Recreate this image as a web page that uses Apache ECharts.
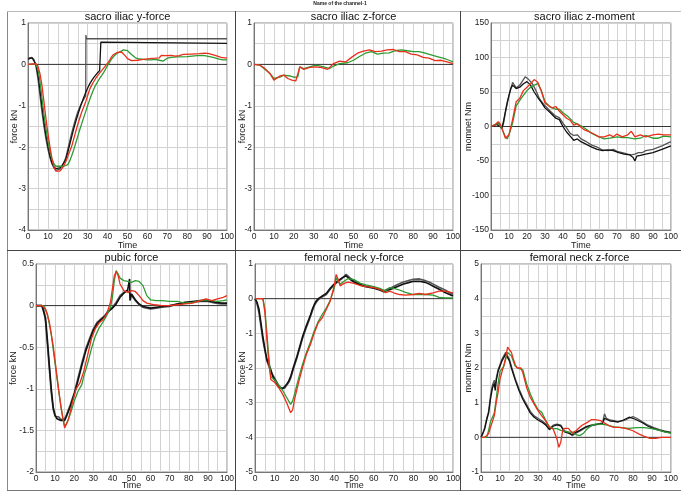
<!DOCTYPE html>
<html><head><meta charset="utf-8">
<script src="https://cdn.jsdelivr.net/npm/echarts@6/dist/echarts.min.js"></script>
<style>html,body{margin:0;padding:0;background:#fff}#c{width:681px;height:492px}</style>
</head><body><div id="c"></div>
<script>
const MAIN_TITLE = 'Name of the channel-1';
const TITLES = ['sacro iliac y-force','sacro iliac z-force','sacro iliac z-moment','pubic force','femoral neck y-force','femoral neck z-force'];
const Y_NAMES = ['force kN','force kN','momnet Nm','force kN','force kN','momnet Nm'];
const X_NAME = 'Time';
// [min, max, label step]
const Y_RANGES = [[-4,1,1],[-4,1,1],[-150,150,50],[-2,0.5,0.5],[-5,1,1],[-1,5,1]];
const X_RANGE = [0,100,10];
const ZERO = [[0,0],[100,0]];

// ---- panel 1: sacro iliac y-force
const P1_BLK1 = [[0,0.15],[1,0.17],[2,0.17],[3,0.12],[4,-0.05],[5,-0.35],[6,-0.75],[7,-1.15],[8,-1.5],[9,-1.8],[10,-2.05],[11,-2.25],[12,-2.4],[13,-2.5],[14,-2.56],[15,-2.57],[16,-2.53],[17,-2.46],[18,-2.37],[19,-2.25],[20,-2.05],[21,-1.85],[22,-1.65],[23,-1.47],[24,-1.3],[25,-1.15],[26,-1.03],[27,-0.93],[28,-0.84],[29,-0.76],[29.1,0.71],[29.4,0.62],[100,0.62]];
const P1_BLK2 = [[0,0.13],[1,0.16],[2,0.16],[3,0.13],[4,0.0],[5,-0.25],[6,-0.6],[7,-1.0],[8,-1.38],[9,-1.7],[10,-1.97],[11,-2.2],[12,-2.37],[13,-2.47],[14,-2.52],[15,-2.52],[16,-2.5],[17,-2.45],[18,-2.38],[19,-2.3],[20,-2.12],[21,-1.93],[22,-1.74],[23,-1.55],[24,-1.38],[25,-1.22],[26,-1.07],[27,-0.93],[28,-0.8],[29,-0.68],[30,-0.57],[31,-0.47],[32,-0.39],[33,-0.32],[34,-0.26],[35,-0.2],[36,-0.15],[36.5,-0.13],[36.6,0.54],[36.9,0.51],[100,0.51]];
const P1_GRN = [[0,0],[2,0],[3,0.01],[4,0],[5,-0.12],[6,-0.4],[7,-0.8],[8,-1.2],[9,-1.55],[10,-1.85],[11,-2.1],[12,-2.28],[13,-2.4],[14,-2.46],[15,-2.48],[16,-2.46],[17,-2.45],[18,-2.46],[19,-2.46],[20,-2.42],[21,-2.33],[22,-2.2],[23,-2.06],[24,-1.9],[25,-1.74],[26,-1.58],[27,-1.43],[28,-1.28],[29,-1.14],[30,-0.99],[31,-0.85],[32,-0.72],[33,-0.6],[34,-0.5],[35,-0.42],[36,-0.34],[37,-0.27],[38,-0.2],[39,-0.11],[40,-0.03],[41,0.05],[42,0.13],[43,0.19],[44,0.24],[45,0.27],[46,0.3],[47,0.33],[48,0.35],[49,0.35],[50,0.33],[51,0.29],[52,0.24],[53,0.2],[54,0.16],[55,0.14],[56,0.13],[58,0.12],[60,0.11],[62,0.11],[64,0.12],[66,0.1],[68,0.08],[69,0.1],[70,0.15],[72,0.17],[75,0.18],[80,0.19],[85,0.21],[88,0.22],[90,0.2],[93,0.17],[96,0.13],[98,0.11],[100,0.11]];
const P1_RED = [[0,0],[2,0.01],[3,0.02],[4,0.02],[5,-0.05],[6,-0.22],[7,-0.5],[8,-0.9],[9,-1.3],[10,-1.66],[11,-1.98],[12,-2.27],[13,-2.47],[14,-2.58],[15,-2.61],[16,-2.58],[17,-2.52],[18,-2.45],[19,-2.35],[20,-2.22],[21,-2.1],[22,-1.97],[23,-1.8],[24,-1.62],[25,-1.45],[26,-1.3],[27,-1.15],[28,-1.03],[29,-0.9],[30,-0.75],[31,-0.6],[32,-0.5],[33,-0.42],[34,-0.34],[35,-0.27],[36,-0.21],[37,-0.15],[38,-0.09],[39,-0.03],[40,0.03],[41,0.1],[42,0.18],[43,0.24],[44,0.27],[45,0.29],[46,0.3],[47,0.3],[48,0.27],[49,0.2],[50,0.14],[51,0.1],[52,0.09],[53,0.09],[55,0.1],[58,0.12],[61,0.14],[64,0.15],[66,0.16],[67,0.22],[68,0.19],[69,0.21],[70,0.19],[72,0.22],[74,0.2],[76,0.21],[78,0.24],[82,0.25],[86,0.26],[89,0.27],[91,0.26],[94,0.22],[97,0.17],[100,0.15]];

// ---- panel 2: sacro iliac z-force
const P2_GRN = [[0,0],[3,-0.02],[5,-0.1],[8,-0.22],[10,-0.34],[11,-0.38],[13,-0.31],[15,-0.26],[16,-0.22],[18,-0.28],[20,-0.31],[22,-0.3],[23,-0.06],[25,-0.1],[28,-0.06],[31,-0.02],[35,-0.06],[38,-0.1],[40,-0.04],[43,0.02],[47,0.04],[50,0.1],[53,0.19],[56,0.27],[59,0.31],[62,0.25],[65,0.27],[68,0.28],[71,0.33],[74,0.35],[77,0.33],[80,0.31],[83,0.31],[86,0.27],[89,0.23],[92,0.19],[95,0.15],[98,0.1],[100,0.06]];
const P2_RED = [[0,0],[3,-0.02],[5,-0.08],[8,-0.22],[10,-0.38],[11,-0.35],[13,-0.28],[15,-0.26],[17,-0.34],[19,-0.38],[20,-0.42],[21,-0.4],[23,-0.06],[25,-0.12],[28,-0.07],[31,-0.06],[34,-0.08],[37,-0.12],[40,0.02],[43,0.08],[46,0.06],[49,0.17],[52,0.27],[55,0.32],[58,0.35],[61,0.31],[64,0.32],[67,0.35],[70,0.36],[73,0.31],[76,0.31],[79,0.25],[82,0.23],[85,0.17],[88,0.15],[91,0.09],[94,0.1],[97,0.06],[100,0.02]];

// ---- panel 3: sacro iliac z-moment
const P3_BLK1 = [[0,0],[2,2],[4,5],[5,2],[6,-3],[7,5],[8,20],[10,45],[12,64],[14,56],[16,60],[18,68],[19,72],[21,68],[23,62],[25,52],[27,40],[30,30],[33,22],[36,15],[38,13],[40,5],[42,-2],[44,-10],[46,-13],[48,-12],[50,-18],[53,-22],[56,-27],[59,-30],[62,-34],[65,-35],[68,-33],[70,-36],[73,-38],[76,-40],[78,-41],[80,-40],[82,-38],[84,-38],[86,-35],[90,-33],[95,-28],[100,-22]];
const P3_BLK2 = [[0,0],[3,3],[5,0],[6,-3],[7,8],[9,35],[11,55],[12,60],[14,55],[16,57],[18,62],[20,65],[22,60],[24,50],[26,42],[28,35],[30,27],[33,20],[36,12],[38,10],[40,0],[42,-8],[44,-14],[46,-20],[48,-18],[50,-22],[53,-26],[56,-30],[59,-33],[62,-35],[65,-34],[68,-35],[71,-38],[74,-40],[77,-41],[79,-45],[80,-50],[81,-43],[83,-42],[86,-40],[90,-38],[95,-33],[100,-28]];
const P3_GRN = [[0,0],[4,5],[6,-3],[8,-15],[9,-18],[10,-12],[12,5],[14,30],[16,38],[18,45],[20,52],[22,57],[24,60],[26,62],[28,52],[30,36],[33,28],[36,25],[38,25],[40,20],[43,14],[46,6],[50,1],[53,-4],[56,-10],[60,-15],[63,-18],[66,-17],[70,-15],[73,-16],[76,-16],[80,-18],[83,-17],[86,-13],[88,-15],[90,-17],[93,-17],[96,-14],[100,-15]];
const P3_RED = [[0,0],[2,2],[4,7],[5,4],[6,-2],[8,-17],[9,-18],[10,-12],[12,10],[14,36],[16,41],[18,52],[20,57],[22,62],[24,68],[26,64],[28,51],[30,34],[32,30],[34,27],[36,29],[38,22],[40,17],[42,12],[44,9],[46,2],[48,4],[50,-1],[52,-5],[55,-8],[58,-12],[60,-15],[63,-15],[66,-12],[68,-15],[70,-11],[73,-15],[76,-12],[78,-7],[80,-15],[83,-12],[86,-15],[90,-12],[93,-11],[96,-12],[100,-12]];

// ---- panel 4: pubic force
const P4_BLK1 = [[0,0],[3,0],[4,-0.04],[5,-0.2],[6,-0.48],[7,-0.77],[8,-1.05],[9,-1.25],[10,-1.33],[11,-1.35],[12,-1.34],[13,-1.37],[14,-1.39],[15,-1.36],[16,-1.31],[18,-1.19],[20,-1.05],[22,-0.87],[24,-0.69],[26,-0.52],[28,-0.4],[30,-0.28],[32,-0.2],[34,-0.16],[36,-0.12],[38,-0.06],[40,-0.02],[42,0.04],[44,0.12],[46,0.16],[48,0.18],[50,0.12],[52,0.06],[54,0.01],[56,-0.02],[58,-0.03],[60,-0.04],[63,-0.03],[66,-0.02],[70,-0.01],[74,0.02],[78,0.03],[82,0.04],[86,0.05],[90,0.05],[94,0.03],[97,0.02],[100,0.02]];
const P4_BLK2 = [[0,0],[3,0],[4,-0.02],[5,-0.15],[6,-0.42],[7,-0.72],[8,-1.0],[9,-1.22],[10,-1.32],[11,-1.36],[12,-1.36],[13,-1.38],[14,-1.4],[15,-1.38],[16,-1.33],[18,-1.21],[20,-1.07],[22,-0.9],[24,-0.72],[26,-0.55],[28,-0.42],[30,-0.3],[32,-0.22],[34,-0.17],[36,-0.13],[38,-0.07],[40,-0.03],[42,0.02],[44,0.1],[46,0.15],[48,0.19],[48.8,0.2],[49,0.32],[49.2,0.06],[50,0.14],[52,0.07],[54,0.02],[56,-0.01],[58,-0.02],[60,-0.03],[63,-0.02],[66,-0.01],[70,0],[74,0.02],[78,0.04],[82,0.05],[86,0.06],[90,0.06],[94,0.04],[97,0.03],[100,0.03]];
const P4_GRN = [[0,0],[4,0],[6,-0.1],[8,-0.35],[10,-0.7],[12,-1.05],[14,-1.35],[15,-1.45],[16,-1.42],[18,-1.3],[20,-1.15],[22,-1.03],[24,-0.95],[25,-0.85],[27,-0.7],[29,-0.52],[31,-0.37],[33,-0.27],[35,-0.2],[37,-0.12],[39,-0.02],[40,0.1],[41,0.3],[42,0.42],[43,0.38],[44,0.33],[46,0.3],[48,0.29],[50,0.28],[52,0.3],[54,0.29],[56,0.24],[58,0.12],[60,0.07],[63,0.06],[66,0.06],[70,0.05],[74,0.05],[78,0.03],[82,0.04],[86,0.06],[89,0.07],[92,0.06],[95,0.05],[98,0.06],[100,0.07]];
const P4_RED = [[0,0],[3,0],[5,-0.04],[7,-0.2],[9,-0.48],[11,-0.85],[13,-1.21],[15,-1.47],[16,-1.45],[17,-1.37],[19,-1.17],[21,-1.0],[23,-0.93],[25,-0.79],[27,-0.6],[29,-0.4],[31,-0.28],[33,-0.21],[35,-0.17],[37,-0.1],[39,0.04],[40,0.2],[41,0.36],[42,0.41],[43,0.36],[44,0.26],[46,0.18],[48,0.16],[50,0.18],[52,0.17],[54,0.12],[56,0.06],[58,0.03],[62,0.01],[66,0],[70,0],[74,0.01],[78,0.02],[82,0.03],[86,0.06],[89,0.08],[92,0.06],[95,0.08],[98,0.1],[100,0.12]];

// ---- panel 5: femoral neck y-force
const P5_BLK1 = [[0,0],[1,-0.15],[2,-0.4],[3,-0.8],[4,-1.2],[5,-1.5],[6,-1.8],[7,-1.95],[8,-2.1],[9,-2.2],[10,-2.3],[11,-2.4],[12,-2.5],[13,-2.57],[14,-2.62],[15,-2.58],[16,-2.5],[17,-2.42],[18,-2.3],[19,-2.1],[20,-1.92],[21,-1.75],[22,-1.55],[23,-1.35],[24,-1.15],[25,-0.98],[26,-0.82],[27,-0.67],[28,-0.52],[29,-0.35],[30,-0.2],[31,-0.1],[32,-0.03],[33,-0.02],[34,0.05],[36,0.12],[38,0.27],[40,0.4],[42,0.5],[44,0.58],[46,0.7],[47,0.68],[48,0.6],[50,0.52],[52,0.46],[55,0.37],[58,0.34],[60,0.32],[63,0.27],[65,0.22],[67,0.28],[69,0.32],[72,0.41],[75,0.48],[78,0.53],[80,0.56],[83,0.57],[86,0.52],[88,0.48],[90,0.42],[93,0.33],[96,0.25],[100,0.12]];
const P5_BLK2 = [[0,0],[1,-0.1],[2,-0.3],[3,-0.7],[4,-1.1],[5,-1.45],[6,-1.75],[7,-1.9],[8,-2.05],[9,-2.25],[10,-2.35],[11,-2.45],[12,-2.55],[13,-2.6],[14,-2.6],[15,-2.55],[16,-2.47],[17,-2.38],[18,-2.25],[19,-2.05],[20,-1.87],[21,-1.7],[22,-1.5],[23,-1.3],[24,-1.1],[25,-0.93],[26,-0.77],[27,-0.62],[28,-0.47],[29,-0.3],[30,-0.16],[31,-0.06],[32,0.0],[34,0.08],[36,0.15],[38,0.3],[40,0.42],[42,0.52],[44,0.6],[46,0.66],[47,0.63],[48,0.56],[50,0.48],[52,0.43],[55,0.36],[58,0.32],[60,0.3],[63,0.25],[65,0.2],[67,0.24],[69,0.28],[72,0.35],[75,0.42],[78,0.47],[80,0.5],[83,0.5],[86,0.47],[88,0.42],[90,0.36],[93,0.27],[96,0.18],[100,0.08]];
const P5_GRN = [[0,0],[4,0],[5,-0.3],[6,-1.0],[7,-1.7],[8,-2.25],[10,-2.35],[12,-2.5],[14,-2.65],[16,-2.85],[18,-3.05],[19,-2.95],[20,-2.75],[22,-2.3],[24,-1.9],[26,-1.55],[28,-1.25],[30,-0.92],[32,-0.65],[34,-0.45],[36,-0.27],[38,-0.05],[40,0.3],[41,0.6],[42,0.5],[43,0.42],[45,0.5],[47,0.58],[50,0.55],[53,0.45],[56,0.4],[60,0.35],[63,0.3],[66,0.22],[68,0.32],[70,0.3],[73,0.25],[76,0.18],[80,0.12],[83,0.12],[86,0.12],[90,0.1],[93,0.04],[96,0.02],[100,0.02]];
const P5_RED = [[0,0],[2,0],[3,0.05],[4,0],[5,-0.4],[6,-1.17],[7,-1.85],[8,-2.33],[10,-2.42],[12,-2.57],[14,-2.76],[16,-3.0],[18,-3.29],[19,-3.21],[20,-2.9],[22,-2.42],[24,-1.99],[26,-1.6],[28,-1.32],[30,-0.98],[32,-0.69],[33,-0.74],[34,-0.55],[36,-0.31],[38,-0.07],[40,0.37],[41,0.7],[42,0.56],[43,0.37],[45,0.44],[47,0.48],[50,0.44],[53,0.38],[56,0.35],[60,0.32],[63,0.27],[66,0.17],[68,0.22],[70,0.17],[73,0.12],[76,0.1],[80,0.12],[83,0.15],[86,0.12],[90,0.17],[93,0.22],[96,0.22],[100,0.17]];

// ---- panel 6: femoral neck z-force
const P6_BLK1 = [[0,0],[1,0.1],[2,0.3],[3,0.55],[4,0.75],[5,1.2],[6,1.5],[7,1.65],[7.5,1.4],[8,1.7],[9,1.95],[10,2.1],[11,2.25],[12,2.35],[13,2.45],[14,2.4],[15,2.25],[16,2.05],[18,1.7],[20,1.4],[22,1.15],[24,0.95],[26,0.75],[28,0.62],[30,0.55],[32,0.48],[34,0.4],[36,0.25],[37,0.2],[38,0.35],[40,0.38],[42,0.35],[44,0.18],[46,0.15],[48,0.05],[50,0.12],[52,0.18],[55,0.28],[58,0.33],[61,0.38],[64,0.42],[65,0.68],[66,0.55],[68,0.5],[70,0.48],[72,0.45],[75,0.48],[78,0.55],[80,0.6],[82,0.55],[85,0.45],[88,0.35],[91,0.28],[94,0.22],[97,0.18],[100,0.15]];
const P6_BLK2 = [[0,0],[1,0.05],[2,0.25],[3,0.5],[4,0.7],[5,1.1],[6,1.42],[7,1.55],[7.5,1.35],[8,1.62],[9,1.9],[10,2.05],[11,2.2],[12,2.3],[13,2.4],[14,2.36],[15,2.2],[16,2.0],[18,1.65],[20,1.35],[22,1.1],[24,0.9],[26,0.7],[28,0.58],[30,0.5],[32,0.44],[34,0.36],[36,0.22],[37,0.18],[38,0.32],[40,0.36],[42,0.33],[44,0.16],[46,0.12],[48,0.08],[50,0.15],[52,0.2],[55,0.3],[58,0.35],[61,0.37],[64,0.4],[65,0.55],[66,0.5],[68,0.47],[70,0.46],[72,0.44],[75,0.5],[78,0.58],[80,0.55],[82,0.5],[85,0.42],[88,0.32],[91,0.25],[94,0.2],[97,0.16],[100,0.13]];
const P6_GRN = [[0,0],[3,0],[4,0.2],[5,0.45],[6,0.5],[7,0.7],[8,1.1],[9,1.55],[10,1.9],[11,1.95],[12,2.05],[13,2.25],[14,2.45],[15,2.5],[16,2.35],[17,2.2],[18,2.05],[20,1.98],[22,1.95],[24,1.55],[26,1.25],[28,1.0],[30,0.8],[32,0.72],[34,0.5],[36,0.3],[38,0.25],[40,0.25],[42,0.2],[44,0.18],[46,0.15],[48,0.15],[50,0.08],[52,0.05],[54,0.12],[56,0.25],[58,0.33],[60,0.38],[63,0.38],[66,0.36],[70,0.3],[74,0.28],[78,0.26],[82,0.28],[86,0.28],[90,0.25],[94,0.2],[97,0.15],[100,0.12]];
const P6_RED = [[0,0],[2,0],[3,-0.03],[4,0.1],[5,0.29],[6,0.34],[7,0.62],[8,1.0],[9,1.3],[10,1.68],[11,1.88],[12,2.07],[13,2.3],[14,2.6],[15,2.64],[16,2.45],[17,2.26],[18,2.1],[19,2.0],[20,1.97],[21,2.0],[22,1.87],[24,1.44],[26,1.15],[28,0.96],[30,0.77],[32,0.62],[34,0.48],[36,0.29],[38,0.24],[39,0.19],[40,-0.05],[41,-0.29],[42,-0.14],[43,0.19],[44,0.26],[46,0.26],[48,0.13],[50,0.19],[53,0.34],[56,0.43],[58,0.51],[60,0.51],[63,0.48],[66,0.38],[68,0.32],[70,0.29],[73,0.29],[76,0.26],[80,0.19],[83,0.1],[86,0.03],[89,-0.03],[92,-0.03],[95,0],[100,0]];

const PANELS = [
  {blk:[P1_BLK1,P1_BLK2], grn:P1_GRN, red:P1_RED},
  {blk:[], grn:P2_GRN, red:P2_RED},
  {blk:[P3_BLK1,P3_BLK2], grn:P3_GRN, red:P3_RED},
  {blk:[P4_BLK1,P4_BLK2], grn:P4_GRN, red:P4_RED},
  {blk:[P5_BLK1,P5_BLK2], grn:P5_GRN, red:P5_RED},
  {blk:[P6_BLK1,P6_BLK2], grn:P6_GRN, red:P6_RED}
];

// layout (pixels)
const GRIDS = [
  {left:28, top:23, width:199, height:207},
  {left:254, top:23, width:199, height:207},
  {left:491, top:23, width:187, height:207},
  {left:36, top:264, width:191, height:208},
  {left:255, top:264, width:198, height:208},
  {left:481, top:264, width:197, height:208}
];
const YGAPS = [9,7,18,18,8,8];
const XGAPS = [11,11,11,9,9,9];
const FONT = 'Liberation Sans, Arial, Helvetica, sans-serif';
const BLACKS = ['#555555','#111111'];
const GREEN = '#2e9a32';
const RED = '#e8301c';

function isMult(v, s){ const r = v/s; return Math.abs(r-Math.round(r))<1e-6; }

const option = {
  animation:false,
  backgroundColor:'#ffffff',
  grid: GRIDS.map(g=>Object.assign({show:true, borderColor:'#8a8a8a', borderWidth:1, backgroundColor:'#fff', containLabel:false}, g)),
  xAxis: GRIDS.map((g,i)=>({
    type:'value', gridIndex:i, min:X_RANGE[0], max:X_RANGE[1], interval:X_RANGE[2]/2,
    name:X_NAME, nameLocation:'middle', nameGap:XGAPS[i], nameMoveOverlap:false,
    nameTextStyle:{fontFamily:FONT, fontSize:9, color:'#222'},
    axisLine:{show:true, onZero:false, lineStyle:{color:'#777'}},
    axisTick:{show:false},
    axisLabel:{fontFamily:FONT, fontSize:8.5, color:'#222', margin:2, showMinLabel:true, showMaxLabel:true,
      formatter:v=> isMult(v,X_RANGE[2]) ? String(Math.round(v)) : ''},
    splitLine:{show:true, lineStyle:{color:'#d2d2d2', width:1}}
  })),
  yAxis: GRIDS.map((g,i)=>({
    type:'value', gridIndex:i, min:Y_RANGES[i][0], max:Y_RANGES[i][1], interval:Y_RANGES[i][2]/2,
    name:Y_NAMES[i], nameLocation:'middle', nameGap:YGAPS[i], nameMoveOverlap:false,
    nameTextStyle:{fontFamily:FONT, fontSize:9, color:'#222'},
    axisLine:{show:true, onZero:false, lineStyle:{color:'#777'}},
    axisTick:{show:false},
    axisLabel:{fontFamily:FONT, fontSize:8.5, color:'#222', margin:2, showMinLabel:true, showMaxLabel:true,
      formatter:v=> isMult(v,Y_RANGES[i][2]) ? String(+v.toFixed(2)) : ''},
    splitLine:{show:true, lineStyle:{color:'#d2d2d2', width:1}}
  })),
  series: [],
  graphic: []
};

PANELS.forEach((p,i)=>{
  const base = {type:'line', xAxisIndex:i, yAxisIndex:i, showSymbol:false, symbol:'none', silent:true, smooth:false};
  option.series.push(Object.assign({}, base, {data:ZERO, lineStyle:{color:'#333', width:1}}));
  p.blk.forEach((d,k)=>{
    option.series.push(Object.assign({}, base, {data:d, lineStyle:{color:BLACKS[k], width:(i===3||i===4)?1.6:1.3}}));
  });
  option.series.push(Object.assign({}, base, {data:p.grn, lineStyle:{color:GREEN, width:1.3}}));
  option.series.push(Object.assign({}, base, {data:p.red, lineStyle:{color:RED, width:1.3}}));
});

// frame lines
const L = (x1,y1,x2,y2,c)=>({type:'line', silent:true, z:100, shape:{x1,y1,x2,y2}, style:{stroke:c, lineWidth:1}});
option.graphic.push(L(7.5,11,7.5,491,'#888'));
option.graphic.push(L(7,11.5,681,11.5,'#bbb'));
option.graphic.push(L(7,490.5,681,490.5,'#777'));
option.graphic.push(L(235.5,11,235.5,491,'#444'));
option.graphic.push(L(460.5,11,460.5,491,'#444'));
option.graphic.push(L(7,250.5,681,250.5,'#444'));

option.graphic.push({type:'text', silent:true, x:340, y:4, style:{text:MAIN_TITLE, fontSize:5, fontWeight:'bold', fontFamily:FONT, fill:'#222', align:'center', verticalAlign:'middle', textAlign:'center', textVerticalAlign:'middle'}});
GRIDS.forEach((g,i)=>{
  option.graphic.push({type:'text', silent:true, x:g.left+g.width/2, y:(i<3?17:258),
    style:{text:TITLES[i], fontSize:11, fontFamily:FONT, fill:'#111', align:'center', verticalAlign:'middle', textAlign:'center', textVerticalAlign:'middle'}});
});

const chart = echarts.init(document.getElementById('c'), null, {renderer:'canvas'});
chart.setOption(option);
</script>
</body></html>
